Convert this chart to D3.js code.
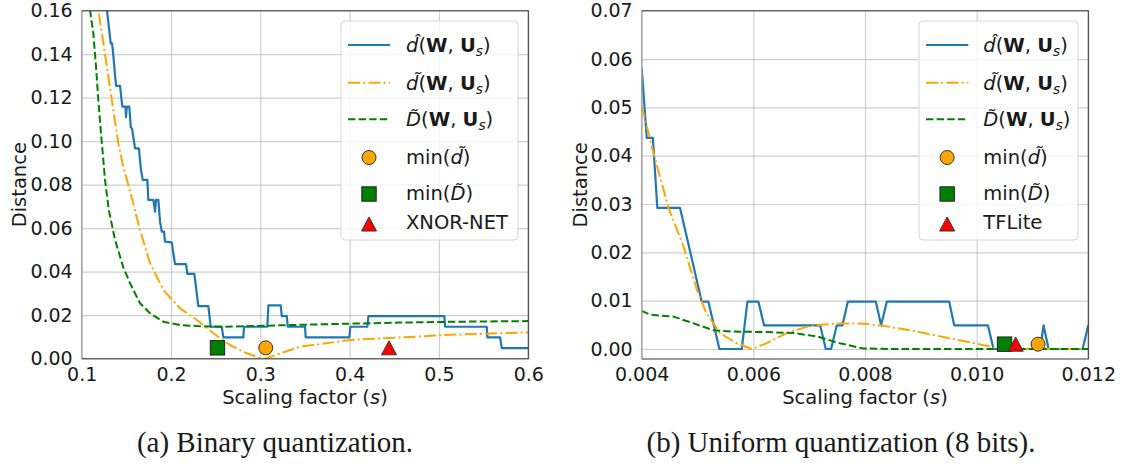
<!DOCTYPE html>
<html>
<head>
<meta charset="utf-8">
<script src="https://cdn.jsdelivr.net/npm/d3@7"></script>
<style>
  body { margin: 0; background: #fff; }
  svg text { font-family: "DejaVu Sans", sans-serif; fill: #1a1a1a; }
  .caption { font-family: "Liberation Serif", "Times New Roman", serif; }
</style>
</head>
<body>
<svg id="fig" width="1127" height="467"></svg>
<script>
// ---------- (a) Binary quantization: [scaling factor s, distance] ----------
const binaryHatD = [
  [0.1272, 0.163], [0.1285, 0.1595], [0.1325, 0.145], [0.134, 0.145], [0.1354, 0.1396],
  [0.1373, 0.1304], [0.1385, 0.1254], [0.1429, 0.1254], [0.1455, 0.1159], [0.149, 0.1159],
  [0.1496, 0.111], [0.1505, 0.1159], [0.1533, 0.1159], [0.1549, 0.1067], [0.1565, 0.1055],
  [0.1578, 0.102], [0.1597, 0.0967], [0.164, 0.0967], [0.1664, 0.0868], [0.1683, 0.0822],
  [0.1735, 0.0822], [0.1746, 0.073], [0.1802, 0.073], [0.1821, 0.0676], [0.1832, 0.073],
  [0.1858, 0.073], [0.1877, 0.063], [0.1896, 0.0584], [0.1922, 0.0584], [0.1933, 0.0538],
  [0.2008, 0.0535], [0.2026, 0.0485], [0.2045, 0.0435], [0.2168, 0.0435], [0.2183, 0.039],
  [0.2261, 0.039], [0.2306, 0.0242], [0.2418, 0.0242], [0.2444, 0.0147], [0.2568, 0.0147],
  [0.2586, 0.0098], [0.281, 0.0098], [0.2817, 0.0147], [0.3078, 0.0147], [0.309, 0.0245],
  [0.3228, 0.0245], [0.324, 0.0196], [0.3296, 0.0196], [0.3307, 0.0147], [0.35, 0.0147],
  [0.3508, 0.0098], [0.3997, 0.0098], [0.4007, 0.0147], [0.4198, 0.0147], [0.421, 0.0196],
  [0.506, 0.0196], [0.5069, 0.0147], [0.5535, 0.0147], [0.5542, 0.0098], [0.5684, 0.0098],
  [0.5703, 0.0049], [0.6, 0.0049]
];
const binaryTildeD = [
  [0.1175, 0.168], [0.1186, 0.1603], [0.1243, 0.145], [0.1298, 0.1297], [0.1354, 0.1143],
  [0.141, 0.099], [0.1466, 0.0883], [0.1541, 0.077], [0.1653, 0.0592], [0.1765, 0.0439],
  [0.1914, 0.0316], [0.2101, 0.0232], [0.2288, 0.0178], [0.2474, 0.0117], [0.266, 0.0063],
  [0.2848, 0.0025], [0.2997, 0.0003], [0.305, 0.0], [0.3444, 0.0055], [0.4004, 0.0086],
  [0.4452, 0.0095], [0.5124, 0.011], [0.6, 0.0121]
];
const binaryTildeBigD = [
  [0.1075, 0.175], [0.1093, 0.1603], [0.113, 0.1496], [0.116, 0.1343], [0.1186, 0.119],
  [0.1216, 0.1036], [0.1242, 0.0914], [0.1261, 0.0822], [0.1305, 0.068], [0.1374, 0.0545],
  [0.1466, 0.042], [0.1541, 0.0347], [0.1653, 0.0255], [0.1765, 0.0209], [0.1914, 0.017],
  [0.2101, 0.0155], [0.2287, 0.015], [0.26, 0.0147], [0.29, 0.015], [0.345, 0.0156],
  [0.4, 0.0161], [0.456, 0.0166], [0.52, 0.017], [0.6, 0.0173]
];
const binaryMinTildeD = [0.306, 0.005];
const binaryMinTildeBigD = [0.252, 0.005];
const binaryReference = [0.444, 0.005];
const binaryXTicks = [0.1, 0.2, 0.3, 0.4, 0.5, 0.6];
const binaryXTickLabels = ["0.1", "0.2", "0.3", "0.4", "0.5", "0.6"];
const binaryYTicks = [0, 0.02, 0.04, 0.06, 0.08, 0.10, 0.12, 0.14, 0.16];
const binaryYTickLabels = ["0.00", "0.02", "0.04", "0.06", "0.08", "0.10", "0.12", "0.14", "0.16"];

// ---------- (b) Uniform quantization (8 bits) ----------
const uniformHatD = [
  [0.004, 0.0582], [0.00409, 0.0437], [0.0042, 0.0437], [0.00428, 0.0292], [0.004687, 0.0292],
  [0.005075, 0.0098], [0.005195, 0.0098], [0.005392, 0], [0.005792, 0], [0.005894, 0.0098],
  [0.006091, 0.0098], [0.006192, 0.0049], [0.007196, 0.0049], [0.007298, 0], [0.007393, 0],
  [0.007495, 0.0049], [0.007596, 0.0049], [0.007692, 0.0098], [0.008194, 0.0098], [0.008289, 0.0049],
  [0.008391, 0.0098], [0.009508, 0.0098], [0.009598, 0.0049], [0.010201, 0.0049], [0.010303, 0],
  [0.011139, 0], [0.011199, 0.0049], [0.011288, 0], [0.011898, 0], [0.012, 0.0049]
];
const uniformTildeD = [
  [0.004, 0.0503], [0.00421, 0.0406], [0.00448, 0.0292], [0.00475, 0.0212], [0.00499, 0.0122],
  [0.00516, 0.0074], [0.0054, 0.0033], [0.0057, 0.0012], [0.00597, 0], [0.00624, 0.0012],
  [0.0066, 0.0033], [0.00696, 0.0046], [0.0072, 0.005], [0.00755, 0.0053], [0.00791, 0.0053],
  [0.00833, 0.0048], [0.00893, 0.0036], [0.00953, 0.0022], [0.01012, 0.0008], [0.01042, 0],
  [0.012, 0]
];
const uniformTildeBigD = [
  [0.004, 0.0079], [0.00415, 0.0071], [0.00457, 0.0067], [0.00493, 0.0053], [0.00528, 0.0039],
  [0.00564, 0.0036], [0.00624, 0.0035], [0.00672, 0.0033], [0.00714, 0.0026], [0.00755, 0.0012],
  [0.00797, 0.0001], [0.0085, 0], [0.012, 0]
];
const uniformMinTildeD = [0.0111, 0.001];
const uniformMinTildeBigD = [0.0105, 0.001];
const uniformReference = [0.0107, 0.001];
const uniformXTicks = [0.004, 0.006, 0.008, 0.010, 0.012];
const uniformXTickLabels = ["0.004", "0.006", "0.008", "0.010", "0.012"];
const uniformYTicks = [0, 0.01, 0.02, 0.03, 0.04, 0.05, 0.06, 0.07];
const uniformYTickLabels = ["0.00", "0.01", "0.02", "0.03", "0.04", "0.05", "0.06", "0.07"];

// ---------- styles ----------
const BLUE = "#1f77b4", ORANGE = "orange", GREEN = "green", RED = "red";
const FS = 19;          // tick font size
const LEGEND_FS = 19.5; // legend and axis-label font size

const svg = d3.select("#fig");

// legend label pieces (math-style text as tspans)
const hatDLabel = [{ t: "d\u0302", i: true }, { t: "(" }, { t: "W", b: true }, { t: ", " }, { t: "U", b: true }, { t: "s", i: true, sub: true }, { t: ")" }];
const tildeDLabel = [{ t: "d\u0303", i: true }, { t: "(" }, { t: "W", b: true }, { t: ", " }, { t: "U", b: true }, { t: "s", i: true, sub: true }, { t: ")" }];
const tildeBigDLabel = [{ t: "D\u0303", i: true }, { t: "(" }, { t: "W", b: true }, { t: ", " }, { t: "U", b: true }, { t: "s", i: true, sub: true }, { t: ")" }];
const minTildeDLabel = [{ t: "min(" }, { t: "d\u0303", i: true }, { t: ")" }];
const minTildeBigDLabel = [{ t: "min(" }, { t: "D\u0303", i: true }, { t: ")" }];

function richText(sel, parts, size) {
  let prevSub = false;
  parts.forEach(p => {
    const ts = sel.append("tspan").text(p.t);
    if (p.i) ts.attr("font-style", "italic");
    if (p.b) ts.attr("font-weight", "bold");
    if (p.sub) {
      ts.attr("font-size", size * 0.7).attr("dy", size * 0.22);
    } else if (prevSub) {
      ts.attr("dy", -size * 0.22);
    }
    prevSub = !!p.sub;
  });
}

function drawMarker(g, kind, cx, cy) {
  if (kind === "circle") {
    g.append("circle").attr("cx", cx).attr("cy", cy).attr("r", 7)
      .attr("fill", ORANGE).attr("stroke", "#333").attr("stroke-width", 1);
  } else if (kind === "square") {
    g.append("rect").attr("x", cx - 7.2).attr("y", cy - 7.2).attr("width", 14.4).attr("height", 14.4)
      .attr("fill", GREEN).attr("stroke", "#222").attr("stroke-width", 1);
  } else {
    const w = 7.5, h = 7;
    g.append("path").attr("d", `M${cx},${cy - h}L${cx + w},${cy + h}L${cx - w},${cy + h}Z`)
      .attr("fill", RED).attr("stroke", "#333").attr("stroke-width", 1).attr("stroke-linejoin", "miter");
  }
}

function drawPanel(cfg, idx) {
  const x = d3.scaleLinear().domain(cfg.xDomain).range([cfg.left, cfg.right]);
  const y = d3.scaleLinear().domain(cfg.yDomain).range([cfg.bottom, cfg.top]);
  const g = svg.append("g");
  const h = cfg.bottom - cfg.top, w = cfg.right - cfg.left;

  const clipId = "clip" + idx;
  g.append("clipPath").attr("id", clipId)
    .append("rect").attr("x", cfg.left).attr("y", cfg.top).attr("width", w).attr("height", h);

  // grid
  const gx = g.append("g").attr("transform", `translate(0,${cfg.bottom})`)
    .call(d3.axisBottom(x).tickValues(cfg.xTicks).tickSize(-h).tickFormat(""));
  const gy = g.append("g").attr("transform", `translate(${cfg.left},0)`)
    .call(d3.axisLeft(y).tickValues(cfg.yTicks).tickSize(-w).tickFormat(""));
  [gx, gy].forEach(a => {
    a.select(".domain").remove();
    a.selectAll("line").attr("stroke", "#b0b0b0").attr("stroke-opacity", 0.6).attr("stroke-width", 1.2);
  });

  // tick labels
  const ax = g.append("g").attr("transform", `translate(0,${cfg.bottom})`)
    .call(d3.axisBottom(x).tickValues(cfg.xTicks).tickSize(0).tickPadding(8.5)
      .tickFormat((d, i) => cfg.xTickLabels[i]));
  const ay = g.append("g").attr("transform", `translate(${cfg.left},0)`)
    .call(d3.axisLeft(y).tickValues(cfg.yTicks).tickSize(0).tickPadding(9)
      .tickFormat((d, i) => cfg.yTickLabels[i]));
  [ax, ay].forEach(a => {
    a.select(".domain").remove();
    a.selectAll("text").attr("font-size", FS).attr("font-family", "DejaVu Sans").attr("fill", "#1a1a1a");
  });

  // curves
  const line = d3.line().x(d => x(d[0])).y(d => y(d[1]));
  const curves = g.append("g").attr("clip-path", `url(#${clipId})`);
  curves.append("path").datum(cfg.hatD).attr("d", line)
    .attr("fill", "none").attr("stroke", BLUE).attr("stroke-width", 2.2).attr("stroke-linejoin", "round");
  curves.append("path").datum(cfg.tildeD).attr("d", line)
    .attr("fill", "none").attr("stroke", ORANGE).attr("stroke-width", 2)
    .attr("stroke-dasharray", "12,3.2,2,3.2").attr("stroke-linejoin", "round");
  curves.append("path").datum(cfg.tildeBigD).attr("d", line)
    .attr("fill", "none").attr("stroke", GREEN).attr("stroke-width", 2)
    .attr("stroke-dasharray", "7.4,3.2").attr("stroke-linejoin", "round");

  // markers
  const mk = g.append("g");
  drawMarker(mk, "circle", x(cfg.minTildeD[0]), y(cfg.minTildeD[1]));
  drawMarker(mk, "square", x(cfg.minTildeBigD[0]), y(cfg.minTildeBigD[1]));
  drawMarker(mk, "triangle", x(cfg.reference[0]), y(cfg.reference[1]));

  // spines
  g.append("line").attr("x1", cfg.left).attr("x2", cfg.left).attr("y1", cfg.top).attr("y2", cfg.bottom)
    .attr("stroke", "#a8a8a8").attr("stroke-width", 1.5);
  g.append("path")
    .attr("d", `M${cfg.left},${cfg.top}H${cfg.right}V${cfg.bottom}H${cfg.left}`)
    .attr("fill", "none").attr("stroke", "#3a3a3a").attr("stroke-width", 1.1);

  // axis labels
  const xl = g.append("text").attr("x", (cfg.left + cfg.right) / 2).attr("y", 404)
    .attr("text-anchor", "middle").attr("font-size", LEGEND_FS);
  xl.append("tspan").text("Scaling factor (");
  xl.append("tspan").attr("font-style", "italic").text("s");
  xl.append("tspan").text(")");
  g.append("text").attr("transform", `translate(${cfg.yLabelX},${(cfg.top + cfg.bottom) / 2}) rotate(-90)`)
    .attr("text-anchor", "middle").attr("font-size", LEGEND_FS).text("Distance");

  // legend
  const L = cfg.legend;
  const lg = g.append("g");
  lg.append("rect").attr("x", L.x0).attr("y", 21).attr("width", L.x1 - L.x0).attr("height", 219)
    .attr("rx", 4).attr("fill", "#fff").attr("fill-opacity", 0.8)
    .attr("stroke", "#d6d6d6").attr("stroke-width", 1);
  const rows = [45, 82.7, 119.3, 157, 193.5, 222.5];
  const samples = [
    { stroke: BLUE, dash: null, w: 2.2 },
    { stroke: ORANGE, dash: "12,3.2,2,3.2", w: 2 },
    { stroke: GREEN, dash: "7.4,3.2", w: 2 }
  ];
  samples.forEach((s, i) => {
    const ln = lg.append("line").attr("x1", L.lineX0).attr("x2", L.lineX1)
      .attr("y1", rows[i]).attr("y2", rows[i]).attr("stroke", s.stroke).attr("stroke-width", s.w);
    if (s.dash) ln.attr("stroke-dasharray", s.dash);
  });
  const mx = (L.lineX0 + L.lineX1) / 2;
  drawMarker(lg, "circle", mx, rows[3] + 0.5);
  drawMarker(lg, "square", mx, rows[4] + 0.5);
  drawMarker(lg, "triangle", mx, rows[5] + 1.5);
  const labels = [hatDLabel, tildeDLabel, tildeBigDLabel, minTildeDLabel, minTildeBigDLabel, [{ t: cfg.referenceName }]];
  labels.forEach((parts, i) => {
    const t = lg.append("text").attr("x", L.textX).attr("y", rows[i] + 6.8).attr("font-size", LEGEND_FS);
    richText(t, parts, LEGEND_FS);
  });

  // caption
  svg.append("text").attr("class", "caption").attr("x", cfg.captionX).attr("y", 452)
    .attr("text-anchor", "middle").attr("font-size", 29)
    .style("font-family", "'Liberation Serif', 'Times New Roman', serif")
    .attr("fill", "#111").text(cfg.caption);
}

drawPanel({
  left: 81.7, right: 528.3, top: 10.7, bottom: 358.7,
  xDomain: [0.1, 0.6], yDomain: [0, 0.16],
  xTicks: binaryXTicks, xTickLabels: binaryXTickLabels,
  yTicks: binaryYTicks, yTickLabels: binaryYTickLabels,
  hatD: binaryHatD, tildeD: binaryTildeD, tildeBigD: binaryTildeBigD,
  minTildeD: binaryMinTildeD, minTildeBigD: binaryMinTildeBigD, reference: binaryReference,
  referenceName: "XNOR-NET",
  yLabelX: 25.5,
  legend: { x0: 341, x1: 518, lineX0: 348, lineX1: 390, textX: 406 },
  caption: "(a) Binary quantization.", captionX: 275
}, 0);

drawPanel({
  left: 641.7, right: 1088.3, top: 10.7, bottom: 359,
  xDomain: [0.004, 0.012], yDomain: [-0.00207, 0.07],
  xTicks: uniformXTicks, xTickLabels: uniformXTickLabels,
  yTicks: uniformYTicks, yTickLabels: uniformYTickLabels,
  hatD: uniformHatD, tildeD: uniformTildeD, tildeBigD: uniformTildeBigD,
  minTildeD: uniformMinTildeD, minTildeBigD: uniformMinTildeBigD, reference: uniformReference,
  referenceName: "TFLite",
  yLabelX: 586.5,
  legend: { x0: 919, x1: 1078, lineX0: 926, lineX1: 968.3, textX: 983.3 },
  caption: "(b) Uniform quantization (8 bits).", captionX: 841
}, 1);
</script>
</body>
</html>
